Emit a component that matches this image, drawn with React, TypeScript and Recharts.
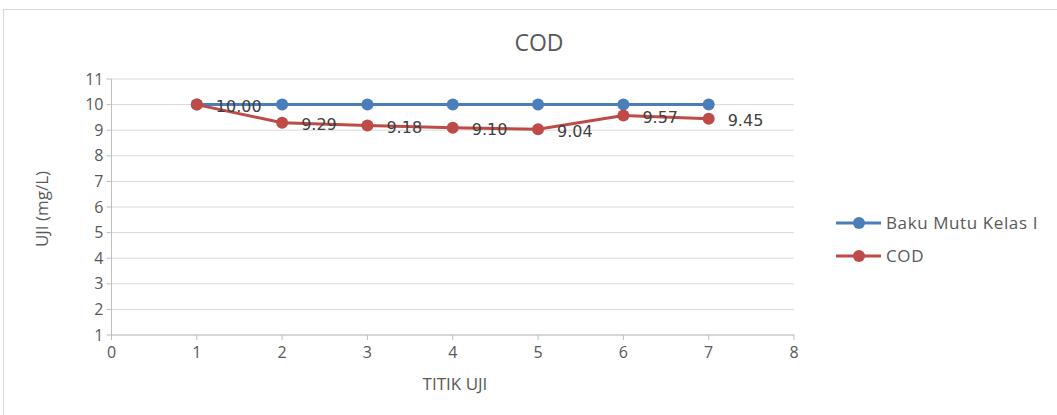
import React from 'react';
import { LineChart, Line, XAxis, YAxis, CartesianGrid, LabelList } from 'recharts';

const points = [1, 2, 3, 4, 5, 6, 7];
const bakuMutu = [10, 10, 10, 10, 10, 10, 10];
const cod = [10.0, 9.29, 9.18, 9.1, 9.04, 9.57, 9.45];
const xTicks = [0, 1, 2, 3, 4, 5, 6, 7, 8];
const yTicks = [1, 2, 3, 4, 5, 6, 7, 8, 9, 10, 11];

const data = points.map((p, i) => ({ x: p, baku: bakuMutu[i], cod: cod[i] }));

const BLUE = '#4a7ebb';
const RED = '#be4b48';
const FONT = '"Open Sans", sans-serif';
const LABEL_FONT = '"DejaVu Sans", sans-serif';

export default function App() {
  return (
    <div style={{ position: 'absolute', left: 3, top: 9, width: 1054, height: 406, border: '1px solid #d9d9d9', borderRight: 'none', borderBottom: 'none', boxSizing: 'border-box', background: '#fff', fontFamily: FONT }}>
      <div style={{ position: 'absolute', left: 0, width: 1070, top: 16, textAlign: 'center', fontSize: 23, color: '#595959', fontFamily: FONT }}>COD</div>
      <LineChart width={1053} height={404} data={data} margin={{ top: 70, right: 262, bottom: 0, left: 0 }} style={{ position: 'absolute', left: -1, top: -1 }}>
        <CartesianGrid vertical={false} stroke="#d9d9d9" />
        <XAxis dataKey="x" type="number" domain={[0, 8]} ticks={xTicks} height={78} stroke="#bfbfbf" tickSize={5} tickMargin={7} tick={{ fill: '#595959', fontSize: 16, fontFamily: FONT }} />
        <YAxis type="number" domain={[1, 11]} ticks={yTicks} width={108.5} stroke="#bfbfbf" tickSize={5} tickMargin={3} tick={{ fill: '#595959', fontSize: 16, fontFamily: FONT }} />
        <Line dataKey="baku" stroke={BLUE} strokeWidth={3} dot={{ r: 6, fill: BLUE, stroke: BLUE, strokeWidth: 0 }} isAnimationActive={false} />
        <Line dataKey="cod" stroke={RED} strokeWidth={3} dot={{ r: 6, fill: RED, stroke: RED, strokeWidth: 0 }} isAnimationActive={false}>
          <LabelList dataKey="cod" position="right" offset={19} dy={2} formatter={(v: any) => Number(v).toFixed(2)} style={{ fill: '#404040', fontSize: 16, fontFamily: LABEL_FONT }} />
        </Line>
      </LineChart>
      <div style={{ position: 'absolute', left: 37, top: 199, width: 0, height: 0 }}>
        <div style={{ position: 'absolute', left: 0, top: 0, transform: 'translate(-50%, -50%) rotate(-90deg)', whiteSpace: 'nowrap', fontSize: 17, color: '#595959' }}>UJI (mg/L)</div>
      </div>
      <div style={{ position: 'absolute', left: 0, width: 902, top: 362, textAlign: 'center', fontSize: 17, color: '#595959' }}>TITIK UJI</div>
      <svg style={{ position: 'absolute', left: 830, top: 200 }} width={224} height={70}>
        <line x1={2} y1={13} x2={47} y2={13} stroke={BLUE} strokeWidth={3} />
        <circle cx={25} cy={13} r={6} fill={BLUE} />
        <text x={52} y={19} fontSize={17} letterSpacing={0.6} fill="#595959" fontFamily={FONT}>Baku Mutu Kelas I</text>
        <line x1={2} y1={46} x2={47} y2={46} stroke={RED} strokeWidth={3} />
        <circle cx={25} cy={46} r={6} fill={RED} />
        <text x={52} y={52} fontSize={17} letterSpacing={0.6} fill="#595959" fontFamily={FONT}>COD</text>
      </svg>
    </div>
  );
}
